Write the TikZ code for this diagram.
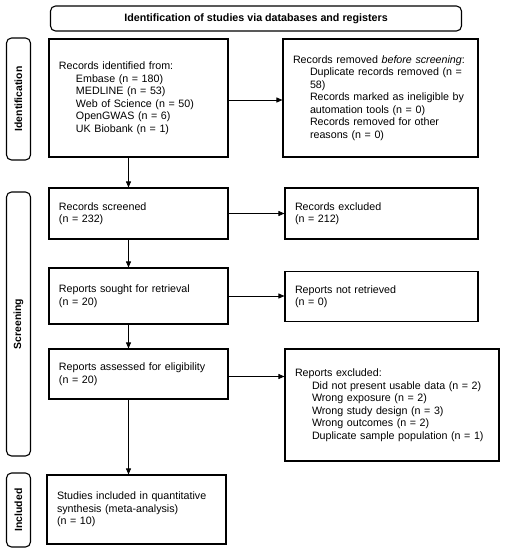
\documentclass[tikz,border=0pt]{standalone}
\usepackage{fontspec}
\setmainfont{Liberation Sans}
\usetikzlibrary{arrows.meta}
\begin{document}
\begin{tikzpicture}[x=1pt,y=-1pt,
  box/.style={draw, line width=1.1pt, rectangle, align=left, inner xsep=10pt, inner ysep=0pt,
    font=\fontsize{10.7}{12.5}\selectfont},
  titlebox/.style={draw, line width=1.1pt, rounded corners=5pt, align=center, inner sep=0pt,
    font=\bfseries\fontsize{10.7}{12}\selectfont},
  side/.style={draw, line width=1.1pt, rounded corners=5pt, rotate=90, inner sep=0pt,
    minimum height=24pt, font=\bfseries\fontsize{10.4}{12}\selectfont},
  arr/.style={-{Triangle[length=6pt,width=5pt]}, line width=0.8pt}]
\useasboundingbox (0,0) rectangle (505,550);
\def\ind{\hspace*{17pt}}
% title
\node[titlebox, minimum width=411pt, minimum height=25pt] (title) at (256,18.5)
  {Identification of studies via databases and registers};
% side labels
\node[side, minimum width=122pt] (sideI) at (18.5,99) {Identification};
\node[side, minimum width=264pt] (sideS) at (18.5,324) {Screening};
\node[side, minimum width=74pt] (sideN) at (18.5,510) {Included};
% left column
\node[box, minimum width=179pt, minimum height=118pt, text width=159pt] (ident) at (138.5,98)
  {Records identified from:\\
   \ind Embase (n = 180)\\
   \ind MEDLINE (n = 53)\\
   \ind Web of Science (n = 50)\\
   \ind OpenGWAS (n = 6)\\
   \ind UK Biobank (n = 1)};
\node[box, minimum width=179pt, minimum height=51pt, text width=159pt] (screen) at (138.5,213.5)
  {Records screened\\(n = 232)};
\node[box, minimum width=179pt, minimum height=56pt, text width=159pt] (sought) at (138.5,296)
  {Reports sought for retrieval\\(n = 20)};
\node[box, minimum width=179pt, minimum height=50pt, text width=159pt] (assess) at (138.5,374)
  {Reports assessed for eligibility\\(n = 20)};
\node[box, minimum width=179pt, minimum height=69pt, text width=159pt] (incl) at (136.5,509.5)
  {Studies included in quantitative\\synthesis (meta-analysis)\\(n = 10)};
% right column
\node[box, minimum width=195pt, minimum height=118pt, text width=175pt] (removed) at (380.5,98)
  {Records removed \textit{before screening}:\\
   \ind Duplicate records removed (n =\\
   \ind 58)\\
   \ind Records marked as ineligible by\\
   \ind automation tools (n = 0)\\
   \ind Records removed for other\\
   \ind reasons (n = 0)};
\node[box, minimum width=193pt, minimum height=51pt, text width=173pt] (rexcl) at (381.5,213.5)
  {Records excluded\\(n = 212)};
\node[box, minimum width=193pt, minimum height=50pt, text width=173pt] (notret) at (381.5,296.7)
  {Reports not retrieved\\(n = 0)};
\node[box, minimum width=214pt, minimum height=112pt, text width=194pt] (excl) at (392,405)
  {Reports excluded:\\
   \ind Did not present usable data (n = 2)\\
   \ind Wrong exposure (n = 2)\\
   \ind Wrong study design (n = 3)\\
   \ind Wrong outcomes (n = 2)\\
   \ind Duplicate sample population (n = 1)};
% connectors
\coordinate (sp) at (128.5,0);
\draw[arr] ([yshift=-2pt]ident.east) -- ([yshift=-2pt]ident.east -| removed.west);
\draw[arr] (screen.east) -- (screen.east -| rexcl.west);
\draw[arr] (sought.east) -- (sought.east -| notret.west);
\draw[arr] ([yshift=-2.5pt]assess.east) -- ([yshift=-2.5pt]assess.east -| excl.west);
\draw[arr] (ident.south -| sp) -- (screen.north -| sp);
\draw[arr] (screen.south -| sp) -- (sought.north -| sp);
\draw[arr] (sought.south -| sp) -- (assess.north -| sp);
\draw[arr] (assess.south -| sp) -- (incl.north -| sp);
\end{tikzpicture}
\end{document}
